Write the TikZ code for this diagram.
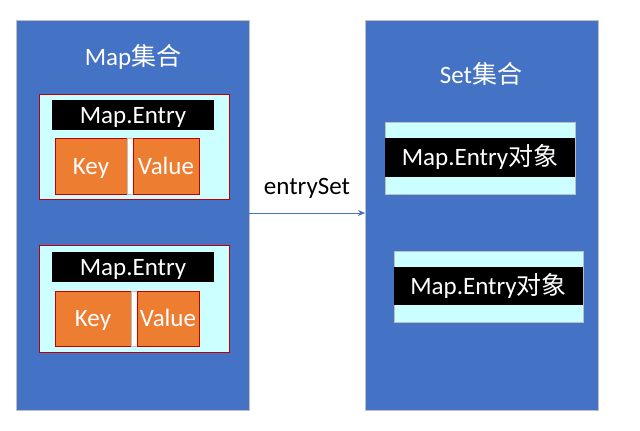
\documentclass[tikz,border=0pt]{standalone}
\usepackage{fontspec}
\usetikzlibrary{arrows.meta}
\setmainfont{Carlito}
\newfontfamily\cjk{Noto Sans CJK SC}
\definecolor{bblue}{HTML}{4472C4}
\definecolor{lcyan}{HTML}{CCFFFF}
\definecolor{orng}{HTML}{ED7D31}
\definecolor{dred}{HTML}{C00000}
\definecolor{lgrey}{HTML}{BFBFBF}
\begin{document}
\begin{tikzpicture}[x=1pt,y=-1pt,
  every node/.style={inner sep=0pt,outer sep=0pt,anchor=north west,font=\fontsize{25}{28}\selectfont},
  big/.style={draw=lgrey,fill=bblue,line width=0.8pt},
  inner/.style={draw=dred,fill=lcyan,line width=1pt},
  captext/.style={text height=16pt,text depth=0pt},
  bar/.style={fill=black,text=white,captext},
  kv/.style={draw=dred,fill=orng,text=white,line width=0.8pt,captext},
  strip/.style={draw=lgrey,fill=white,line width=0.5pt},
  obj/.style={draw=lgrey,fill=lcyan,line width=1pt},
  title/.style={text=white,anchor=center,captext},
  arr/.style={draw=bblue,line width=0.9pt,-{Stealth[length=7pt,width=6pt]}}]
\useasboundingbox (0,0) rectangle (640,431);
% big boxes
\node[big,minimum width=233pt,minimum height=390pt] (lb) at (16,20) {};
\node[big,minimum width=233pt,minimum height=390pt] (rb) at (365,20) {};
\node[title] (lt) at (133,57) {Map{\cjk 集合}};
\node[title] (rt) at (481,75) {Set{\cjk 集合}};
% left entry 1
\node[inner,minimum width=190pt,minimum height=105pt] (e1) at (39,94) {};
\node[bar,minimum width=162pt,minimum height=30pt] (b1) at (52,100) {Map.Entry};
\node[kv,minimum width=72pt,minimum height=56pt] (k1) at (55,138) {Key};
\node[strip,minimum width=6pt,minimum height=56pt] (s1) at (127,138) {};
\node[kv,minimum width=66pt,minimum height=56pt] (v1) at (133,138) {Value};
% left entry 2
\node[inner,minimum width=190pt,minimum height=107pt] (e2) at (39,245) {};
\node[bar,minimum width=162pt,minimum height=30pt] (b2) at (52,252) {Map.Entry};
\node[kv,minimum width=76pt,minimum height=55pt] (k2) at (55,291) {Key};
\node[strip,minimum width=6pt,minimum height=55pt] (s2) at (131,291) {};
\node[kv,minimum width=62pt,minimum height=55pt] (v2) at (137,291) {Value};
% right objects
\node[obj,minimum width=190pt,minimum height=72pt] (o1) at (385,122) {};
\node[bar,minimum width=190pt,minimum height=39pt] (ob1) at (385,138) {Map.Entry{\cjk 对象}};
\node[obj,minimum width=189pt,minimum height=71pt] (o2) at (394,251) {};
\node[bar,minimum width=189pt,minimum height=38pt] (ob2) at (394,267) {Map.Entry{\cjk 对象}};
% arrow
\draw[arr] ([yshift=2pt]lb.east) -- ([yshift=2pt]rb.west);
\node[anchor=center,captext] (lab) at (307,186) {entrySet};
\end{tikzpicture}
\end{document}
